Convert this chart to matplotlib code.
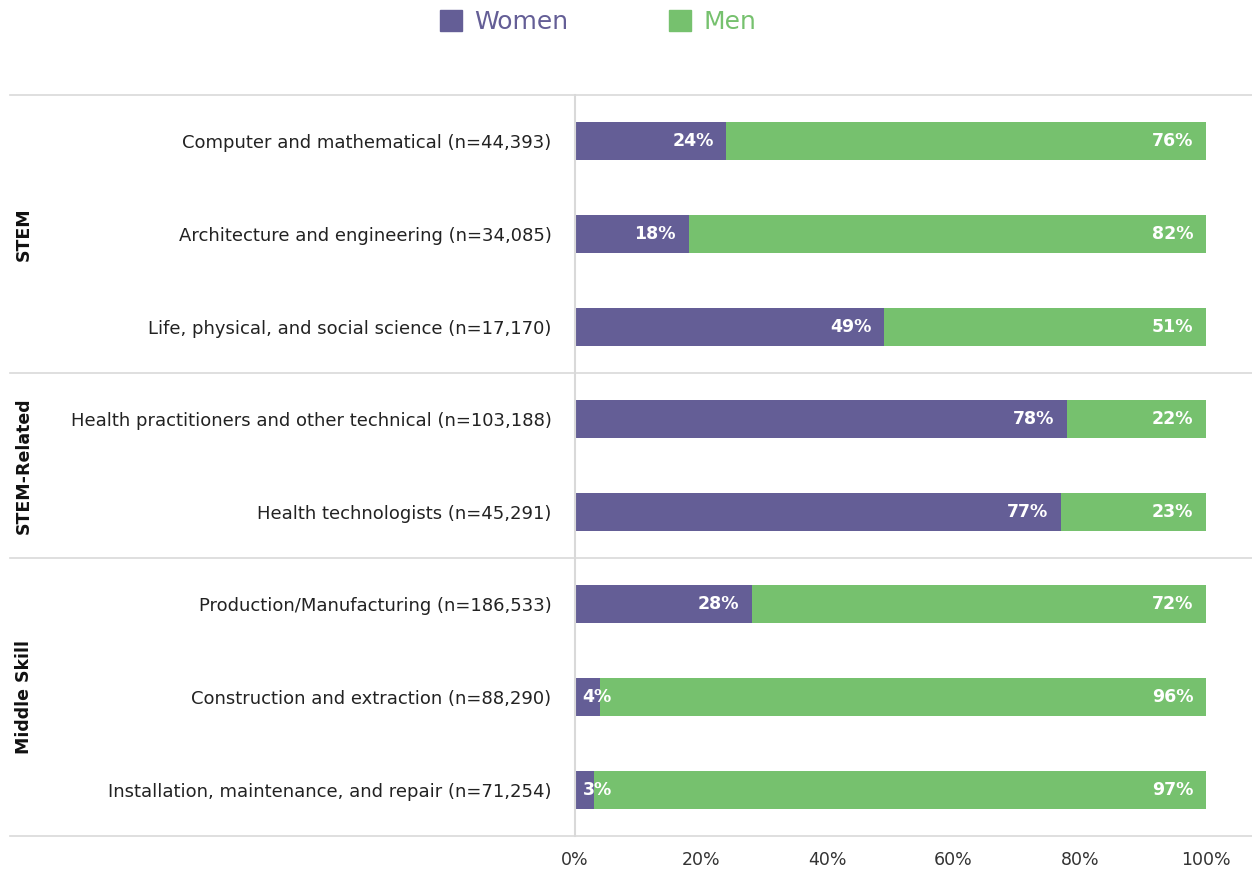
import numpy as np
import matplotlib.pyplot as plt
from matplotlib.patches import Patch
from matplotlib.lines import Line2D
from matplotlib.transforms import blended_transform_factory

# datos
ocupaciones = [
    "Computer and mathematical (n=44,393)",
    "Architecture and engineering (n=34,085)",
    "Life, physical, and social science (n=17,170)",
    "Health practitioners and other technical (n=103,188)",
    "Health technologists (n=45,291)",
    "Production/Manufacturing (n=186,533)",
    "Construction and extraction (n=88,290)",
    "Installation, maintenance, and repair (n=71,254)",
]
mujeres = [24, 18, 49, 78, 77, 28, 4, 3]
hombres = [76, 82, 51, 22, 23, 72, 96, 97]
grupos = ["STEM", "STEM-Related", "Middle Skill"]
grupo_filas = [(0, 2), (3, 4), (5, 7)]

color_mujeres = "#645e96"
color_hombres = "#76c16e"
color_linea = "#d9d9d9"

plt.rcParams['font.family'] = ['DejaVu Sans']

fig = plt.figure(figsize=(12.52, 8.73), dpi=100)
ax = fig.add_axes([575 / 1252, 1 - 836 / 873, 631 / 1252, (836 - 95) / 873])

y = np.arange(len(ocupaciones))
muj = np.array(mujeres) / 100
hom = np.array(hombres) / 100
alto = 0.41
ax.barh(y, muj, height=alto, color=color_mujeres)
ax.barh(y, hom, left=muj, height=alto, color=color_hombres)

pad = 0.02
for i in range(len(ocupaciones)):
    if muj[i] < 0.1:
        ax.text(0.012, y[i], f"{mujeres[i]}%", ha='left', va='center',
                color='white', fontsize=12.5, fontweight='bold')
    else:
        ax.text(muj[i] - pad, y[i], f"{mujeres[i]}%", ha='right', va='center',
                color='white', fontsize=12.5, fontweight='bold')
    ax.text(1 - pad, y[i], f"{hombres[i]}%", ha='right', va='center',
            color='white', fontsize=12.5, fontweight='bold')

ax.set_xlim(0, 1)
ax.set_ylim(len(ocupaciones) - 0.5, -0.5)
ax.set_yticks(y)
ax.set_yticklabels(ocupaciones, fontsize=13, color='#222222')
ax.set_xticks(np.linspace(0, 1, 6))
ax.set_xticklabels([f"{v}%" for v in range(0, 101, 20)], fontsize=12.5, color='#333333')
ax.tick_params(length=0)
ax.tick_params(axis='y', pad=17)
ax.tick_params(axis='x', pad=11)
for lado in ['top', 'right', 'bottom']:
    ax.spines[lado].set_visible(False)
ax.spines['left'].set_color(color_linea)
ax.spines['left'].set_linewidth(1.5)

# lineas separadoras de grupos
trans = blended_transform_factory(fig.transFigure, ax.transData)
for yy in [-0.5, 2.5, 4.5, 7.5]:
    fig.add_artist(Line2D([10 / 1252, 1.0], [yy, yy], transform=trans,
                          color=color_linea, linewidth=1.2))

for nombre, (a, b) in zip(grupos, grupo_filas):
    fig.text(24 / 1252, (a + b) / 2, nombre, rotation=90, ha='center', va='center',
             fontsize=12.5, fontweight='bold', color='#111111', transform=trans)

# leyenda
handles = [Patch(color=color_mujeres, label="Women"), Patch(color=color_hombres, label="Men")]
leg = fig.legend(handles=handles, loc='center', bbox_to_anchor=(598 / 1252, 1 - 22 / 873),
                 ncol=2, frameon=False, fontsize=18, handlelength=0.9, handleheight=0.9,
                 columnspacing=4.0, handletextpad=0.5)
for txt, c in zip(leg.get_texts(), [color_mujeres, color_hombres]):
    txt.set_color(c)

fig.savefig("out.png", dpi=100)
